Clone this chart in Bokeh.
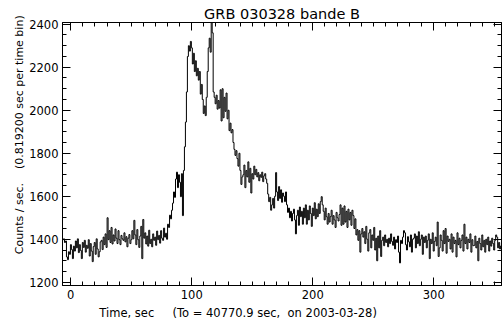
import numpy as np
from bokeh.plotting import figure
from bokeh.models import Range1d, LinearAxis, SingleIntervalTicker
from bokeh.embed import file_html
from bokeh.resources import INLINE

NB = "\u00a0"
TITLE = "GRB 030328 bande B"
XLABEL = "Time, sec" + NB * 5 + "(To = 40770.9 sec," + NB * 2 + "on 2003-03-28)" + NB * 24
YLABEL = NB * 11 + "Counts / sec." + NB * 4 + "(0.819200 sec per time bin)"

T0 = -6.8      # start of first time bin (sec)
DT = 0.8192    # time bin width (sec)

counts = [
    1398, 1402, 1385, 1392, 1318, 1305, 1342, 1330, 1375, 1352, 1310, 1368,
    1345, 1392, 1360, 1402, 1338, 1375, 1348, 1310, 1385, 1362, 1395, 1340,
    1372, 1358, 1398, 1322, 1380, 1345, 1296, 1366, 1385, 1330, 1402, 1355,
    1318, 1342, 1388, 1395, 1352, 1410, 1375, 1425, 1362, 1500, 1398, 1440, 1385,
    1455, 1378, 1420, 1392, 1448, 1405, 1380, 1440, 1398, 1375, 1418, 1402,
    1395, 1430, 1388, 1412, 1365, 1405, 1422, 1380, 1398, 1440, 1402, 1488,
    1420, 1375, 1445, 1398, 1362, 1415, 1460, 1310, 1492, 1405, 1430, 1378,
    1415, 1368, 1442, 1380, 1400, 1365, 1425, 1395, 1410, 1372, 1438, 1398,
    1418, 1382, 1440, 1405, 1395, 1452, 1410, 1428, 1400, 1470, 1455, 1512, 1495,
    1535, 1568, 1620, 1595, 1680, 1712, 1640, 1700, 1665, 1598, 1705, 1510,
    1720, 1830, 1945, 2085, 2250, 2300, 2275, 2320, 2290, 2215, 2265, 2180,
    2230, 2160, 2195, 2140, 2180, 2075, 2120, 2050, 1985, 2020, 1975, 2060,
    2180, 2290, 2335, 2270, 2450, 2360, 2085, 2060, 2030, 2070, 2005, 2045,
    2010, 2095, 1950, 2100, 1965, 2060, 1995, 2080, 1960, 2000, 1905, 1940, 1895,
    1910, 1850, 1818, 1790, 1812, 1775, 1740, 1800, 1720, 1655, 1690, 1700,
    1745, 1640, 1720, 1690, 1760, 1665, 1730, 1615, 1705, 1680, 1740, 1700,
    1725, 1690, 1710, 1672, 1700, 1688, 1712, 1668, 1695, 1705, 1680, 1660,
    1610, 1575, 1595, 1535, 1560, 1590, 1545, 1600, 1710, 1620, 1580, 1645,
    1590, 1630, 1572, 1615, 1600, 1575, 1620, 1560, 1525, 1545, 1500, 1530, 1485,
    1520, 1540, 1490, 1425, 1510, 1535, 1465, 1550, 1505, 1530, 1470, 1545,
    1500, 1560, 1470, 1535, 1490, 1555, 1520, 1460, 1545, 1510, 1570, 1495,
    1540, 1505, 1565, 1520, 1575, 1598, 1560, 1530, 1490, 1545, 1505, 1470,
    1520, 1480, 1505, 1535, 1470, 1510, 1490, 1455, 1525, 1500, 1485, 1515,
    1560, 1465, 1545, 1470, 1555, 1480, 1530, 1455, 1540, 1490, 1525, 1465, 1535,
    1510, 1450, 1495, 1420, 1445, 1395, 1440, 1340, 1425, 1450, 1410, 1435,
    1380, 1460, 1400, 1345, 1430, 1445, 1360, 1420, 1395, 1455, 1350, 1405,
    1300, 1415, 1360, 1440, 1320, 1395, 1410, 1370, 1420, 1385, 1400, 1365,
    1405, 1380, 1425, 1390, 1372, 1410, 1355, 1398, 1385, 1415, 1340, 1290,
    1395, 1380, 1410, 1440, 1430, 1375, 1350, 1412, 1388, 1365, 1420, 1340, 1400,
    1405, 1425, 1360, 1415, 1380, 1435, 1370, 1400, 1420, 1330, 1410, 1385,
    1415, 1360, 1395, 1425, 1310, 1400, 1380, 1430, 1345, 1390, 1410, 1370,
    1480, 1320, 1360, 1420, 1395, 1345, 1440, 1380, 1450, 1335, 1415, 1390,
    1400, 1355, 1425, 1340, 1410, 1380, 1395, 1318, 1430, 1375, 1405, 1360,
    1395, 1420, 1345, 1470, 1380, 1410, 1355, 1400, 1385, 1425, 1340, 1398, 1370,
    1372, 1415, 1360, 1390, 1300, 1405, 1380, 1350, 1420, 1365, 1395, 1340,
    1400, 1375, 1410, 1345, 1392, 1368, 1405, 1380, 1350, 1395, 1420, 1410,
    1360, 1385, 1355, 1370,
]

time = T0 + DT * np.arange(len(counts))

FONT = "DejaVu Sans"

p = figure(width=504, height=325, output_backend="svg", toolbar_location=None,
           x_range=Range1d(-6.8, 356), y_range=Range1d(1185, 2408),
           min_border_left=62, min_border_right=3, min_border_top=22, min_border_bottom=40)

p.title.text = TITLE
p.title.align = "center"
p.title.text_font = FONT
p.title.text_font_size = "14.5px"
p.title.text_font_style = "normal"
p.title.text_color = "black"
p.title.standoff = 2

p.step(time, counts, mode="after", line_color="black", line_width=1)

p.xgrid.visible = False
p.ygrid.visible = False
p.outline_line_color = "black"
p.outline_line_alpha = 1
p.background_fill_color = "white"
p.border_fill_color = "white"

xt = SingleIntervalTicker(interval=100, num_minor_ticks=10)
yt = SingleIntervalTicker(interval=200, num_minor_ticks=4)

def style(ax, labels=True):
    ax.axis_line_color = "black"
    ax.major_tick_line_color = "black"
    ax.minor_tick_line_color = "black"
    ax.major_tick_in = 8
    ax.major_tick_out = 0
    ax.minor_tick_in = 4
    ax.minor_tick_out = 0
    ax.major_label_text_font = FONT
    ax.major_label_text_font_size = "11.5px" if labels else "1px"
    ax.major_label_text_color = "black" if labels else None
    ax.axis_label_text_font = FONT
    ax.axis_label_text_font_size = "11.5px"
    ax.axis_label_text_font_style = "normal"
    ax.axis_label_text_color = "black"

p.xaxis.ticker = xt
p.yaxis.ticker = yt
style(p.xaxis[0])
style(p.yaxis[0])
p.xaxis.axis_label = XLABEL
p.yaxis.axis_label = YLABEL
p.yaxis.axis_label_text_font_size = "11px"
p.xaxis.major_label_standoff = 4
p.xaxis.axis_label_standoff = 4
p.yaxis.major_label_standoff = 4
p.yaxis.axis_label_standoff = 0

top = LinearAxis(ticker=xt)
style(top, labels=False)
top.major_label_standoff = 0
p.add_layout(top, "above")

right = LinearAxis(ticker=yt)
style(right, labels=False)
right.major_label_standoff = 0
p.add_layout(right, "right")

open("out.html", "w").write(file_html(p, INLINE))
